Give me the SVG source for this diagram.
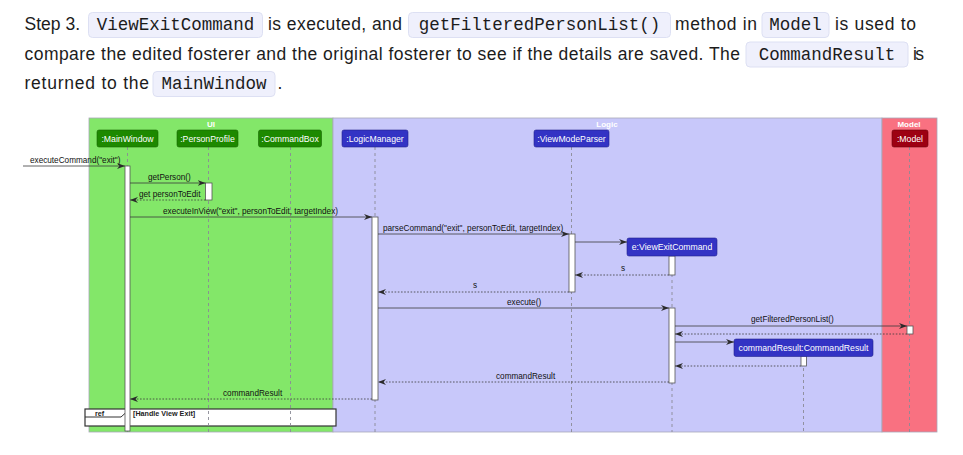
<svg xmlns="http://www.w3.org/2000/svg" width="963" height="455" viewBox="0 0 963 455">
<style>
.body{font-family:"Liberation Sans",Arial,sans-serif;font-size:17.5px;fill:#1c1c1c}
.code{font-family:"Liberation Mono","DejaVu Sans Mono",monospace;font-size:17.5px;fill:#1c1c1c;text-anchor:middle}
.cbox{fill:#eff0fc;stroke:#dde0f3;stroke-width:1}
.grp{stroke:#a9a9b8;stroke-width:0.8}
.glab{font-family:"Liberation Sans",Arial,sans-serif;font-size:8px;font-weight:bold;fill:#ffffff;text-anchor:middle}
.ptxt{font-family:"Liberation Sans",Arial,sans-serif;font-size:8.7px;fill:#ffffff;text-anchor:middle}
.ui{fill:#1D8900;stroke:#156600;stroke-width:0.6}
.lo{fill:#3333C4;stroke:#23238f;stroke-width:0.6}
.mo{fill:#9D0012;stroke:#6d000c;stroke-width:0.6}
.life{stroke:#8a8a95;stroke-width:0.9;stroke-dasharray:3,3;fill:none}
.act{fill:#ffffff;stroke:#555555;stroke-width:0.8}
.msg{stroke:#3a3a3a;stroke-width:0.8;fill:none;marker-end:url(#ah)}
.ret{stroke:#3a3a3a;stroke-width:0.8;fill:none;stroke-dasharray:1.6,1.6;marker-end:url(#ah)}
.mlab{font-family:"Liberation Sans",Arial,sans-serif;font-size:8.2px;fill:#111111}
.reft{font-family:"Liberation Sans",Arial,sans-serif;font-size:7.2px;font-weight:bold;fill:#222222}
</style>
<defs>
<marker id="ah" viewBox="0 0 8 6" refX="8" refY="3" markerWidth="8" markerHeight="6" markerUnits="userSpaceOnUse" orient="auto">
<path d="M0,0 L8,3 L0,6 L2.5,3 Z" fill="#2a2a2a"/>
</marker>
</defs>
<rect width="963" height="455" fill="#ffffff"/>

<g id="intro">
<text class="body" x="24.5" y="30" textLength="55.5">Step 3.</text>
<rect class="cbox" x="88.5" y="12.5" width="174" height="25" rx="4"/>
<text class="code" x="175.5" y="30">ViewExitCommand</text>
<text class="body" x="268" y="30" textLength="134">is executed, and</text>
<rect class="cbox" x="408.5" y="12.5" width="262" height="25" rx="4"/>
<text class="code" x="539.5" y="30">getFilteredPersonList()</text>
<text class="body" x="675" y="30" textLength="82">method in</text>
<rect class="cbox" x="762" y="12.5" width="67" height="25" rx="4"/>
<text class="code" x="795.5" y="30">Model</text>
<text class="body" x="835" y="30" textLength="81">is used to</text>
<text class="body" x="24.5" y="60" textLength="715.5">compare the edited fosterer and the original fosterer to see if the details are saved. The</text>
<rect class="cbox" x="746" y="42" width="162" height="25" rx="4"/>
<text class="code" x="827" y="60">CommandResult</text>
<text class="body" x="913" y="60" textLength="11">is</text>
<text class="body" x="24.5" y="89" textLength="124.5">returned to the</text>
<rect class="cbox" x="153" y="71.5" width="122" height="25" rx="4"/>
<text class="code" x="214" y="89">MainWindow</text>
<text class="body" x="277.5" y="89">.</text>
</g>

<g id="boundary-ui">
<rect class="grp" x="89" y="118" width="244" height="314" fill="#83E769"/>
<text class="glab" x="211" y="127">UI</text>
</g>
<g id="boundary-logic">
<rect class="grp" x="333" y="118" width="549" height="314" fill="#C8C8FA"/>
<text class="glab" x="607" y="127">Logic</text>
</g>
<g id="boundary-model">
<rect class="grp" x="882" y="118" width="55" height="314" fill="#F97181"/>
<text class="glab" x="909" y="127">Model</text>
</g>

<g id="ref-handle-view-exit">
<rect x="85" y="409" width="251" height="17" fill="#ffffff" stroke="#333333" stroke-width="1.2"/>
<path d="M85,417 L121,417 L126,412.5 L126,409" fill="none" stroke="#333333" stroke-width="1"/>
<text class="reft" x="95" y="415.5">ref</text>
<text class="reft" x="133" y="415.5">[Handle View Exit]</text>
</g>

<g id="mainWindow">
<line class="life" x1="127.5" y1="147" x2="127.5" y2="432"/>
<rect class="act" x="125" y="166" width="5" height="265"/>
<rect class="ui" x="97" y="130" width="61" height="17" rx="2"/>
<text class="ptxt" x="127.5" y="141.7">:MainWindow</text>
</g>
<g id="personProfile">
<line class="life" x1="208.5" y1="147" x2="208.5" y2="432"/>
<rect class="act" x="205.5" y="183" width="6.5" height="17"/>
<rect class="ui" x="177" y="130" width="61" height="17" rx="2"/>
<text class="ptxt" x="207.5" y="141.7">:PersonProfile</text>
</g>
<g id="commandBox">
<line class="life" x1="290.5" y1="147" x2="290.5" y2="432"/>
<rect class="ui" x="258.5" y="130" width="63" height="17" rx="2"/>
<text class="ptxt" x="290" y="141.7">:CommandBox</text>
</g>
<g id="logicManager">
<line class="life" x1="375" y1="147" x2="375" y2="432"/>
<rect class="act" x="372" y="217" width="6" height="183"/>
<rect class="lo" x="342" y="130" width="66" height="17" rx="2"/>
<text class="ptxt" x="375" y="141.7">:LogicManager</text>
</g>
<g id="viewModeParser">
<line class="life" x1="571.5" y1="147" x2="571.5" y2="432"/>
<rect class="act" x="569" y="234" width="6" height="58"/>
<rect class="lo" x="534" y="130" width="75" height="17" rx="2"/>
<text class="ptxt" x="571.5" y="141.7">:ViewModeParser</text>
</g>
<g id="viewExitCommand">
<line class="life" x1="672" y1="256" x2="672" y2="432"/>
<rect class="act" x="669" y="256" width="6" height="19"/>
<rect class="act" x="669" y="308" width="6" height="75"/>
<rect class="lo" x="627" y="238" width="90" height="18" rx="2"/>
<text class="ptxt" x="672" y="250.2">e:ViewExitCommand</text>
</g>
<g id="commandResult">
<line class="life" x1="803.5" y1="356" x2="803.5" y2="432"/>
<rect class="act" x="801" y="356" width="5.5" height="10"/>
<rect class="lo" x="734" y="339" width="139" height="17.5" rx="2"/>
<text class="ptxt" x="803.5" y="350.8">commandResult:CommandResult</text>
</g>
<g id="model">
<line class="life" x1="909.5" y1="147" x2="909.5" y2="432"/>
<rect class="act" x="907" y="326" width="6" height="8"/>
<rect class="mo" x="892" y="130" width="36" height="17" rx="2"/>
<text class="ptxt" x="910" y="141.7">:Model</text>
</g>

<g id="connectors">
<line class="msg" x1="23" y1="166" x2="125" y2="166"/>
<text class="mlab" x="30" y="163">executeCommand("exit")</text>
<line class="msg" x1="130" y1="183" x2="205.5" y2="183"/>
<text class="mlab" x="148" y="179.5">getPerson()</text>
<line class="ret" x1="205.5" y1="200" x2="130" y2="200"/>
<text class="mlab" x="139" y="196.5">get personToEdit</text>
<line class="msg" x1="130" y1="217" x2="372" y2="217"/>
<text class="mlab" x="163" y="213.5">executeInView("exit", personToEdit, targetIndex)</text>
<line class="msg" x1="378" y1="234" x2="569" y2="234"/>
<text class="mlab" x="383" y="231">parseCommand("exit", personToEdit, targetIndex)</text>
<line class="msg" x1="575" y1="242" x2="627" y2="242"/>
<line class="ret" x1="669" y1="275" x2="575" y2="275"/>
<text class="mlab" x="621" y="271">s</text>
<line class="ret" x1="569" y1="292" x2="378" y2="292"/>
<text class="mlab" x="473" y="288">s</text>
<line class="msg" x1="378" y1="308" x2="669" y2="308"/>
<text class="mlab" x="507" y="304.5">execute()</text>
<line class="msg" x1="675" y1="326" x2="907" y2="326"/>
<text class="mlab" x="751" y="322">getFilteredPersonList()</text>
<line class="ret" x1="907" y1="334" x2="675" y2="334"/>
<line class="msg" x1="675" y1="342" x2="734" y2="342"/>
<line class="ret" x1="801" y1="366" x2="675" y2="366"/>
<line class="ret" x1="669" y1="382" x2="378" y2="382"/>
<text class="mlab" x="496" y="379">commandResult</text>
<line class="ret" x1="372" y1="399" x2="130" y2="399"/>
<text class="mlab" x="223" y="396">commandResult</text>
</g>
</svg>
